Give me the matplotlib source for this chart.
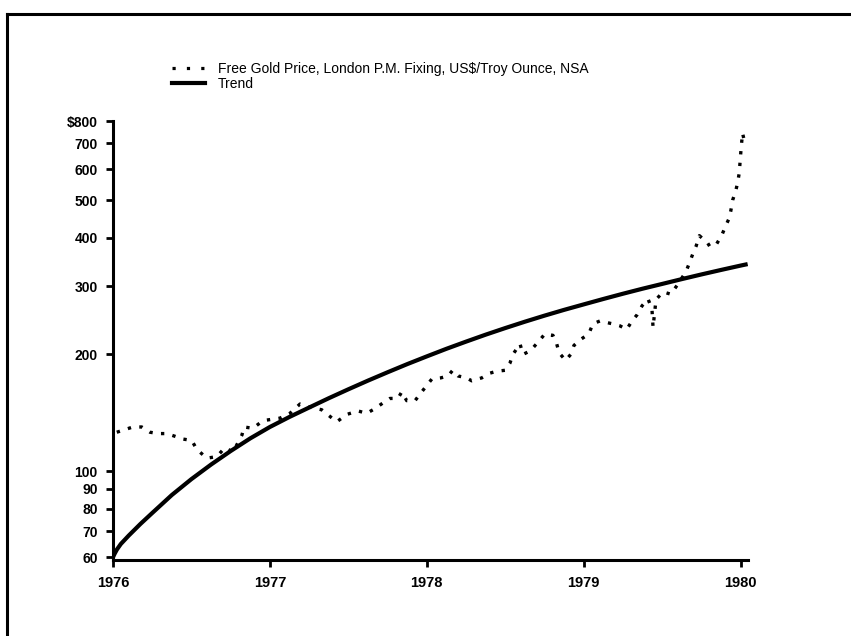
import numpy as np
import matplotlib
matplotlib.use("Agg")
import matplotlib.pyplot as plt
from matplotlib.lines import Line2D
from matplotlib.ticker import FixedLocator, FixedFormatter, NullLocator

plt.rcParams['font.family'] = ['Liberation Sans', 'DejaVu Sans']

# free gold price (fractional year, US$/oz)
gold_years = [1976.024, 1976.127, 1976.183, 1976.236, 1976.287, 1976.342, 1976.395, 1976.446,
              1976.502, 1976.533, 1976.597, 1976.661, 1976.714, 1976.765, 1976.822, 1976.835,
              1976.892, 1976.956, 1977.064, 1977.128, 1977.192, 1977.262, 1977.330, 1977.426,
              1977.489, 1977.561, 1977.617, 1977.670, 1977.721, 1977.765, 1977.816, 1977.840,
              1977.872, 1977.925, 1977.967, 1978.008, 1978.033, 1978.089, 1978.135, 1978.165,
              1978.199, 1978.254, 1978.286, 1978.350, 1978.403, 1978.446, 1978.498, 1978.530,
              1978.549, 1978.594, 1978.613, 1978.645, 1978.677, 1978.721, 1978.753, 1978.804,
              1978.828, 1978.843, 1978.885, 1978.917, 1978.938, 1978.976, 1979.019, 1979.040,
              1979.059, 1979.104, 1979.142, 1979.200, 1979.231, 1979.274, 1979.308, 1979.340,
              1979.372, 1979.410, 1979.435, 1979.438, 1979.442, 1979.461, 1979.506, 1979.555,
              1979.594, 1979.652, 1979.677, 1979.696, 1979.717, 1979.737, 1979.758, 1979.784,
              1979.805, 1979.848, 1979.879, 1979.907, 1979.926, 1979.937, 1979.950, 1979.969,
              1979.982, 1979.992, 1979.996, 1980.001, 1980.012, 1980.028]
gold_price = [126, 130, 130, 126, 125, 125, 123, 121,
              120, 114, 108, 109, 115, 112, 124, 130,
              129, 135, 137, 141, 149, 146, 144, 134,
              140, 143, 141, 145, 150, 154, 154, 160,
              152, 152, 160, 168, 173, 174, 176, 182,
              176, 174, 171, 174, 179, 181, 182, 190,
              200, 213, 200, 203, 208, 218, 226, 224,
              213, 202, 193, 200, 211, 218, 224, 230,
              240, 244, 242, 239, 237, 232, 244, 253,
              267, 278, 262, 250, 235, 277, 290, 286,
              301, 327, 347, 364, 381, 405, 398, 391,
              379, 386, 405, 431, 448, 468, 501, 528,
              557, 590, 623, 662, 745, 700]

# trend curve
trend_years = [1976.0, 1976.01, 1976.025, 1976.05, 1976.1, 1976.175, 1976.25, 1976.375,
               1976.5, 1976.625, 1976.75, 1976.875, 1977.0, 1977.125, 1977.25, 1977.375,
               1977.5, 1977.625, 1977.75, 1977.875, 1978.0, 1978.125, 1978.25, 1978.375,
               1978.5, 1978.625, 1978.75, 1978.875, 1979.0, 1979.125, 1979.25, 1979.375,
               1979.5, 1979.625, 1979.75, 1979.875, 1980.0, 1980.045]
trend_vals = [60, 61.2, 62.8, 64.9, 68.2, 73.1, 78, 86.8,
              95.4, 104, 112.7, 121.5, 130.0, 138, 145.9, 154.2,
              162.6, 171.2, 179.9, 188.8, 197.7, 206.8, 215.8, 224.9,
              233.9, 242.9, 251.8, 260.6, 269.2, 278, 286.8, 295.5,
              304, 312.8, 321.6, 330.3, 339, 342]

y_ticks = [60, 70, 80, 90, 100, 200, 300, 400, 500, 600, 700, 800]
y_labels = ['60', '70', '80', '90', '100', '200', '300', '400', '500', '600', '700', '$800']
x_ticks = [1976, 1977, 1978, 1979, 1980]

W, H = 851, 636
fig = plt.figure(figsize=(W / 100, H / 100), dpi=100)
ax = fig.add_axes([113 / W, 1 - 560 / H, (748 - 113) / W, (560 - 121) / H])

ax.plot(gold_years, gold_price, color='black', lw=2.4, linestyle=(0, (1, 2.5)),
        dash_capstyle='butt')
ax.plot(trend_years, trend_vals, color='black', lw=3.0, solid_capstyle='butt')

ax.set_yscale('log')
ax.set_ylim(59, 800)
ax.set_xlim(1976, 1976 + (748 - 113) / 156.9)

ax.yaxis.set_major_locator(FixedLocator(y_ticks))
ax.yaxis.set_major_formatter(FixedFormatter(y_labels))
ax.yaxis.set_minor_locator(NullLocator())
ax.set_xticks(x_ticks)
ax.set_xticklabels([str(t) for t in x_ticks])

for s in ['top', 'right']:
    ax.spines[s].set_visible(False)
for s in ['left', 'bottom']:
    ax.spines[s].set_linewidth(2.2)
ax.tick_params(axis='both', direction='out', length=5, width=2.0)
ax.tick_params(axis='y', labelsize=10, pad=6)
ax.tick_params(axis='x', labelsize=10.5, pad=6.5)
for lab in ax.get_xticklabels() + ax.get_yticklabels():
    lab.set_fontweight('bold')

handles = [Line2D([], [], color='black', lw=2.3, linestyle=(0, (1, 3.5))),
           Line2D([], [], color='black', lw=3.0)]
fig.legend(handles, ['Free Gold Price, London P.M. Fixing, US$/Troy Ounce, NSA', 'Trend'],
           loc='upper left', bbox_to_anchor=(172 / W, 1 - 62 / H), frameon=False,
           fontsize=10, handlelength=2.4, handletextpad=0.9, labelspacing=0.05,
           borderpad=0, borderaxespad=0)

# page frame
fig.add_artist(Line2D([7 / W, 1], [1 - 14 / H, 1 - 14 / H], color='black', lw=2.2,
                      transform=fig.transFigure))
fig.add_artist(Line2D([7 / W, 7 / W], [0, 1 - 14 / H], color='black', lw=2.2,
                      transform=fig.transFigure))

fig.savefig('out.png', dpi=100)
